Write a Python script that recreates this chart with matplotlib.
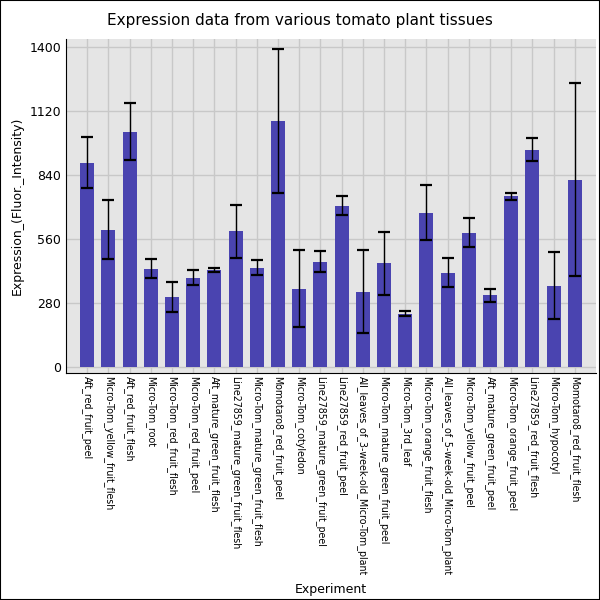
import matplotlib
matplotlib.use("Agg")
import matplotlib.pyplot as plt
import numpy as np

experiments = ['Aft_red_fruit_peel', 'Micro-Tom_yellow_fruit_flesh', 'Aft_red_fruit_flesh',
               'Micro-Tom_root', 'Micro-Tom_red_fruit_flesh', 'Micro-Tom_red_fruit_peel',
               'Aft_mature_green_fruit_flesh', 'Line27859_mature_green_fruit_flesh',
               'Micro-Tom_mature_green_fruit_flesh', 'Momotaro8_red_fruit_peel',
               'Micro-Tom_cotyledon', 'Line27859_mature_green_fruit_peel', 'Line27859_red_fruit_peel',
               'All_leaves_of_3-week-old_Micro-Tom_plant', 'Micro-Tom_mature_green_fruit_peel',
               'Micro-Tom_3rd_leaf', 'Micro-Tom_orange_fruit_flesh',
               'All_leaves_of_5-week-old_Micro-Tom_plant', 'Micro-Tom_yellow_fruit_peel',
               'Aft_mature_green_fruit_peel', 'Micro-Tom_orange_fruit_peel',
               'Line27859_red_fruit_flesh', 'Micro-Tom_hypocotyl', 'Momotaro8_red_fruit_flesh']
expression = [895, 602, 1031, 432, 309, 392, 427, 594, 436, 1079, 344, 462,
              707, 331, 454, 235, 677, 414, 589, 314, 747, 952, 357, 821]
error = [112, 130, 124, 41, 66, 34, 9, 114, 33, 315, 170, 47,
         42, 182, 138, 12, 120, 62, 64, 27, 15, 49, 147, 423]
yticks = [0, 280, 560, 840, 1120, 1400]

fig = plt.figure(figsize=(6, 6), dpi=100)
ax = fig.add_axes([0.11, 0.378, 0.8833, 0.557])
ax.set_facecolor('#e5e5e5')
ax.set_axisbelow(True)
ax.grid(True, color='#c8c8c8', linewidth=1)

x = np.arange(len(experiments))
ax.bar(x, expression, width=0.66, color='#4a44b0', zorder=2)
ax.errorbar(x, expression, yerr=error, fmt='none', ecolor='black', elinewidth=1,
            capsize=4, capthick=1.6, zorder=3)

ax.set_xlim(-1, len(experiments))
ax.set_ylim(-26, 1436)
ax.set_yticks(yticks)
ax.set_xticks(x)
ax.set_xticklabels(experiments, rotation=270, fontsize=6.85)
ax.tick_params(axis='y', length=0, labelsize=9)
ax.tick_params(axis='x', length=0, pad=2)
for s in ['top', 'right']:
    ax.spines[s].set_visible(False)
ax.set_xlabel('Experiment', fontsize=9)
ax.xaxis.set_label_coords(0.5, -0.628)
ax.set_ylabel('Expression_(Fluor._Intensity)', fontsize=9)
fig.suptitle('Expression data from various tomato plant tissues', fontsize=11, y=0.978)

fig.patches.append(plt.Rectangle((0, 0), 1, 1, transform=fig.transFigure, fill=False,
                                 edgecolor='black', linewidth=1.5))
fig.savefig('out.png', dpi=100)
